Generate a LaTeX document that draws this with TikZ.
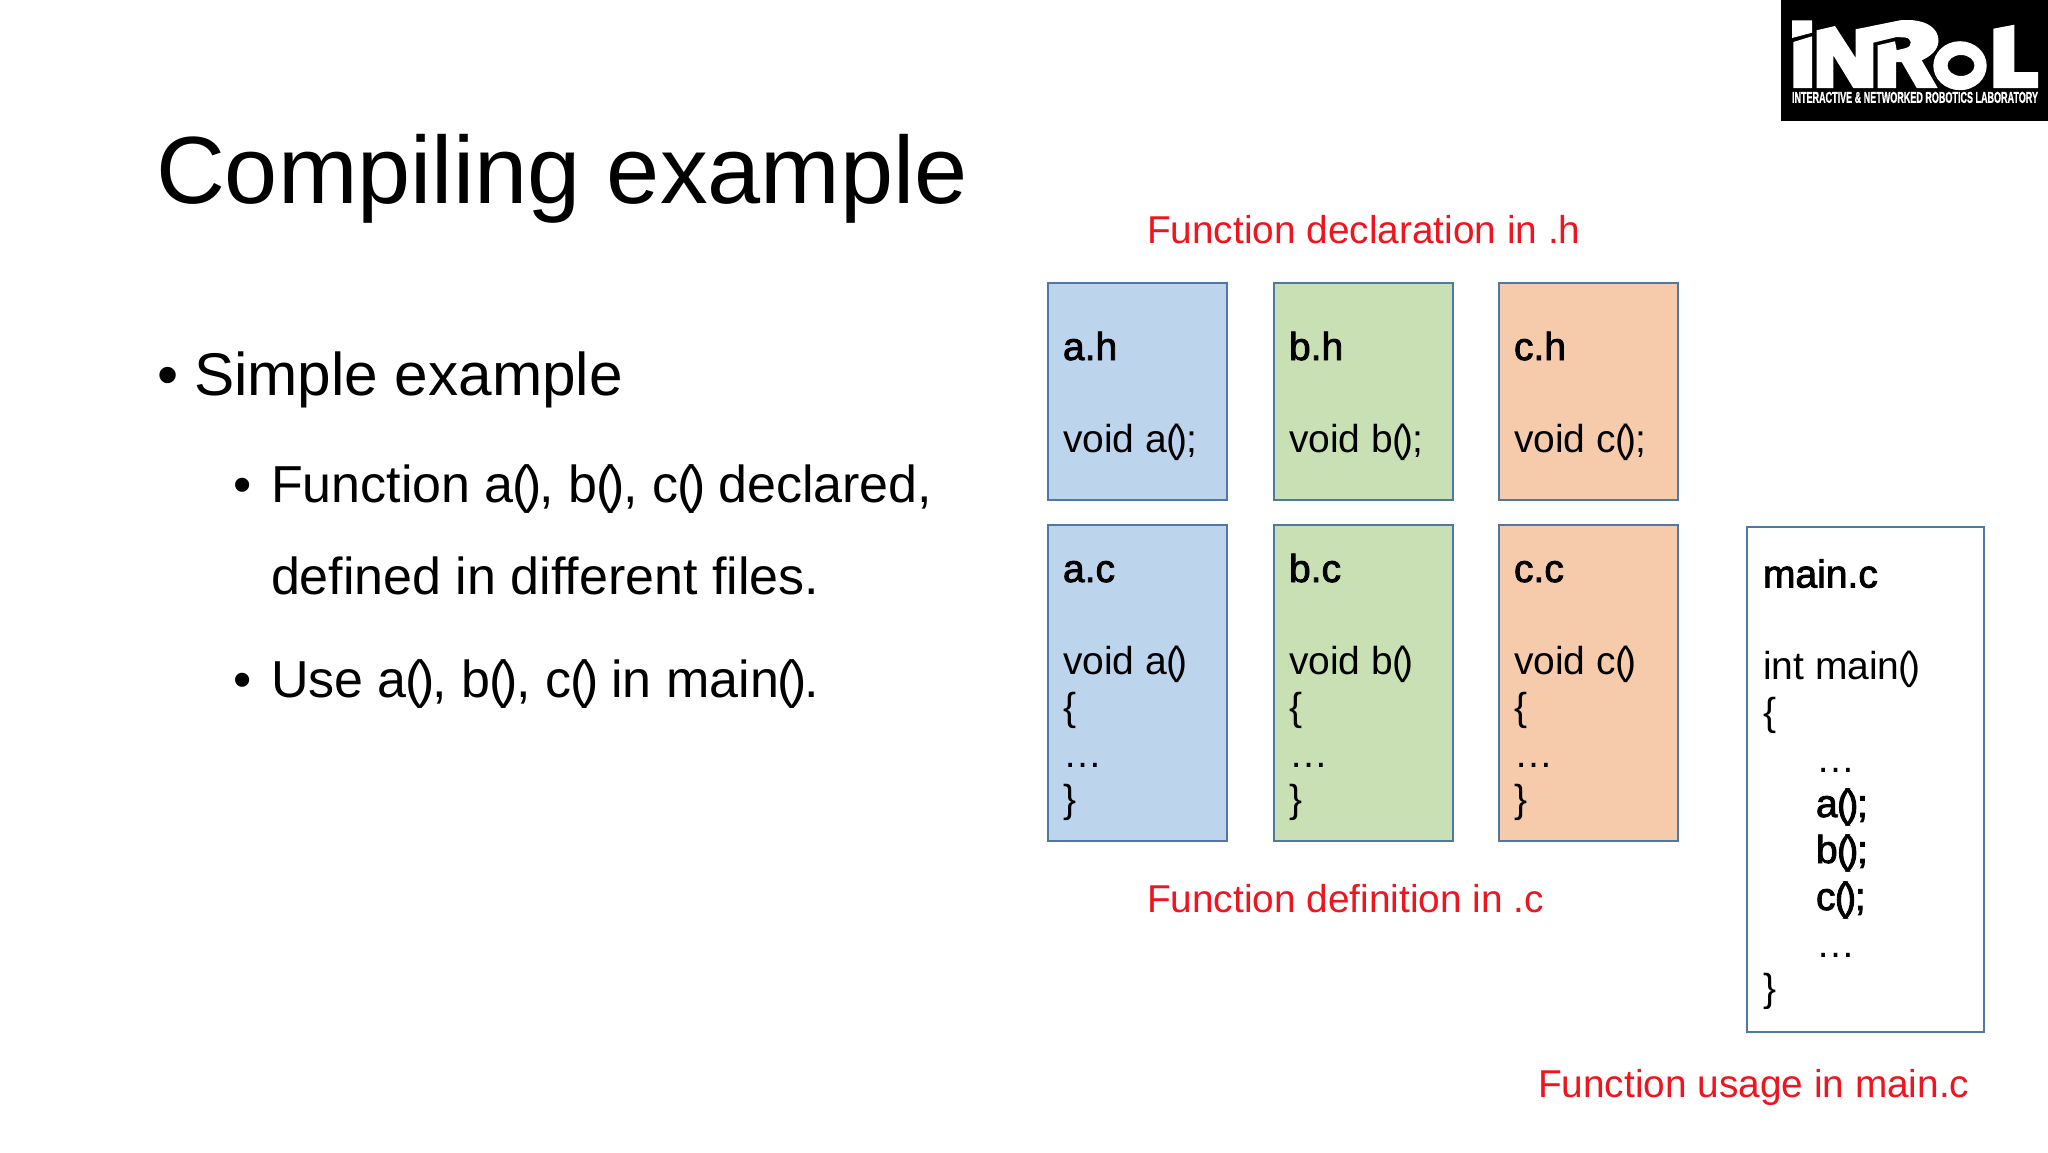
\documentclass[tikz,border=0pt]{standalone}
\usepackage{fontspec}
\setmainfont{Liberation Sans}
\newfontfamily\fauxbold[FakeBold=2.2]{Liberation Sans}
\newfontfamily\logofont[BoldFeatures={FakeBold=1.5}]{Liberation Sans}
\newcommand{\parpair}{\kern-.02em(\kern-.115em)\kern-.035em}
\newcommand{\sz}[1]{\fontsize{#1}{#1}\selectfont}
\definecolor{boxblue}{HTML}{BDD5EC}
\definecolor{boxgreen}{HTML}{C8E0B3}
\definecolor{boxorange}{HTML}{F6CBAC}
\definecolor{boxline}{HTML}{4F78A5}
\definecolor{notered}{HTML}{F0141E}
\tikzset{
  x=1pt,y=-1pt,
  txt/.style={anchor=base west,inner sep=0,outer sep=0,text=black},
  titletxt/.style={txt,font=\sz{95.5}},
  lvlone/.style={txt,font=\sz{60.3}},
  lvltwo/.style={txt,font=\sz{52}},
  code/.style={txt,font=\sz{39}},
  codeb/.style={txt,font=\fauxbold\sz{39}},
  note/.style={txt,font=\sz{38.8},text=notered},
  filebox/.style={draw=boxline,line width=2pt,anchor=north west,inner sep=0,outer sep=0},
  logoink/.style={fill=white,draw=none},
}
\begin{document}
\begin{tikzpicture}
\useasboundingbox (0,0) rectangle (2048,1152);
\fill[white] (0,0) rectangle (2048,1152);

% logo
\node[fill=black,anchor=north west,inner sep=0,outer sep=0,minimum width=267pt,minimum height=121pt] (logo) at (1781,0) {};
\fill[logoink] (1792,20.3) -- (1812,20.3) -- (1812,32.7) -- (1792,38) -- cycle;
\fill[logoink] (1793.3,42) -- (1812,36.3) -- (1812,88) -- (1793.3,88) -- cycle;
\fill[logoink] (1816.7,30.3) -- (1835,26) -- (1855.7,58) -- (1855.7,29.3) -- (1900,20.3)
  .. controls (1925,18) and (1939,28) .. (1938.5,41)
  .. controls (1938,50) and (1931,56) .. (1921.7,60.3)
  -- (1937.7,88) -- (1916.7,88) -- (1901.7,62) -- (1896,62) -- (1896,88) -- (1877.7,88)
  -- (1877.7,45.3) -- (1895,41.3) -- (1896.7,50.3) -- (1906,48)
  .. controls (1913,46) and (1912,38) .. (1905,37.5)
  -- (1896.7,37) -- (1873.3,42.7) -- (1873.3,88) -- (1853.3,88) -- (1833.3,55.3) -- (1833.3,88) -- (1816.7,88) -- cycle;
\fill[logoink,even odd rule] (1960,65.7) ellipse [x radius=26.7,y radius=24.5] (1961,65.5) ellipse [x radius=13.5,y radius=10.5];
\fill[logoink] (1993.3,28.7) -- (2014.3,24.7) -- (2014.3,72) -- (2038,72) -- (2038,88) -- (1993.3,88) -- cycle;
\node[anchor=south west,inner sep=0,outer sep=0,text=white] (logotext) at (1792,103) {\resizebox{246pt}{11pt}{\logofont\bfseries INTERACTIVE \& NETWORKED ROBOTICS LABORATORY}};

% left column
\node[titletxt] (title) at (156,203) {Compiling example};
\node[lvlone] (b1) at (157,395) {•};
\node[lvlone] (t1) at (194,395) {Simple example};
\node[lvltwo] (b2) at (233,502) {•};
\node[lvltwo] (t2) at (271,502) {Function a\parpair, b\parpair, c\parpair{} declared,};
\node[lvltwo] (t3) at (271,594) {defined in different files.};
\node[lvltwo] (b3) at (233,697) {•};
\node[lvltwo] (t4) at (271,697) {Use a\parpair, b\parpair, c\parpair{} in main\parpair.};

% header files
\node[filebox,fill=boxblue,minimum width=179pt,minimum height=217pt] (ah) at (1048,283) {};
\node[filebox,fill=boxgreen,minimum width=179pt,minimum height=217pt] (bh) at (1274,283) {};
\node[filebox,fill=boxorange,minimum width=179pt,minimum height=217pt] (ch) at (1499,283) {};
% source files
\node[filebox,fill=boxblue,minimum width=179pt,minimum height=316pt] (ac) at (1048,525) {};
\node[filebox,fill=boxgreen,minimum width=179pt,minimum height=316pt] (bc) at (1274,525) {};
\node[filebox,fill=boxorange,minimum width=179pt,minimum height=316pt] (cc) at (1499,525) {};
\node[filebox,fill=white,minimum width=237pt,minimum height=505pt] (mainc) at (1747,527) {};

\foreach \xx/\ll in {1063/a,1289/b,1514/c}{
  \node[codeb] (\ll hname) at (\xx,360) {\ll.h};
  \node[code]  (\ll hdecl) at (\xx,452) {void \ll\parpair;};
  \node[codeb] (\ll cname) at (\xx,582) {\ll.c};
  \node[code]  (\ll csig) at (\xx,674) {void \ll\parpair};
  \node[code]  (\ll copen) at (\xx,720) {\{};
  \node[code]  (\ll cdots) at (\xx,767) {…};
  \node[code]  (\ll cclose) at (\xx,812) {\}};
}

\node[codeb] (m0) at (1763,587.5) {main.c};
\node[code]  (m1) at (1763,679) {int main\parpair};
\node[code]  (m2) at (1763,725) {\{};
\node[code]  (m3) at (1816,772) {…};
\node[codeb] (m4) at (1816,817) {a\parpair;};
\node[codeb] (m5) at (1816,863) {b\parpair;};
\node[codeb] (m6) at (1816,910) {c\parpair;};
\node[code]  (m7) at (1816,957) {…};
\node[code]  (m8) at (1763,1001) {\}};

\node[note] (n1) at (1147,243) {Function declaration in .h};
\node[note] (n2) at (1147,912) {Function definition in .c};
\node[note] (n3) at (1538,1097) {Function usage in main.c};
\end{tikzpicture}
\end{document}
